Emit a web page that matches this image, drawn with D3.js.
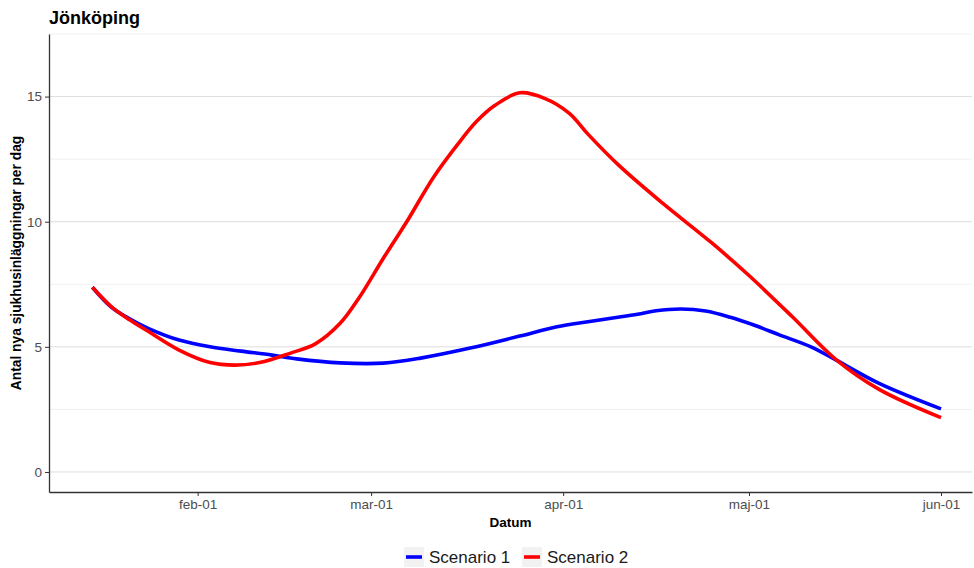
<!DOCTYPE html>
<html>
<head>
<meta charset="utf-8">
<script src="https://cdn.jsdelivr.net/npm/d3@7"></script>
<style>
  body { margin: 0; background: #fff; }
  svg { font-family: Arial, "Liberation Sans", sans-serif; }
</style>
</head>
<body>
<div id="chart"></div>
<script>
// Scenario 2 (red)
const datesS2 = ["2021-01-15","2021-01-18","2021-01-21","2021-01-24","2021-01-29","2021-02-03",
  "2021-02-07","2021-02-11","2021-02-16","2021-02-20","2021-02-24","2021-02-27","2021-03-03",
  "2021-03-07","2021-03-11","2021-03-15","2021-03-18","2021-03-21","2021-03-25","2021-03-29",
  "2021-04-02","2021-04-05","2021-04-10","2021-04-17","2021-04-25","2021-05-01","2021-05-08",
  "2021-05-15","2021-05-22","2021-06-01"];
const valuesS2 = [7.38, 6.62, 6.08, 5.62, 4.87, 4.37, 4.27, 4.37, 4.75, 5.12, 5.94, 6.94, 8.55,
  10.1, 11.75, 13.1, 14.0, 14.65, 15.15, 14.93, 14.33, 13.5, 12.25, 10.75, 9.15, 7.85, 6.2,
  4.5, 3.3, 2.17];

// Scenario 1 (blue)
const datesS1 = ["2021-01-15","2021-01-18","2021-01-21","2021-01-24","2021-01-29","2021-02-03",
  "2021-02-08","2021-02-13","2021-02-17","2021-02-24","2021-03-03","2021-03-09","2021-03-17",
  "2021-03-25","2021-03-31","2021-04-05","2021-04-09","2021-04-13","2021-04-16","2021-04-20",
  "2021-04-24","2021-04-28","2021-05-02","2021-05-06","2021-05-11","2021-05-15","2021-05-22",
  "2021-06-01"];
const valuesS1 = [7.38, 6.6, 6.12, 5.74, 5.27, 5.0, 4.83, 4.67, 4.52, 4.36, 4.35, 4.55, 4.95,
  5.43, 5.8, 6.0, 6.15, 6.3, 6.44, 6.51, 6.43, 6.18, 5.85, 5.47, 5.0, 4.48, 3.54, 2.52];

const seriesNames = ["Scenario 1", "Scenario 2"];
const seriesColors = ["#0000ff", "#ff0000"];
const xTicks = ["2021-02-01","2021-03-01","2021-04-01","2021-05-01","2021-06-01"];
const yTicks = [0, 5, 10, 15];
const yMinor = [2.5, 7.5, 12.5, 17.5];
const monthNames = ["jan","feb","mar","apr","maj","jun","jul","aug","sep","okt","nov","dec"];

function init() {
    const width = 974, height = 568;
    const margin = { top: 34, right: 2, bottom: 76, left: 49 };
    const parse = d3.timeParse("%Y-%m-%d");

    const svg = d3.select("#chart").append("svg")
        .attr("width", width)
        .attr("height", height);

    const x = d3.scaleTime()
        .domain([parse("2021-01-08"), parse("2021-06-06")])
        .range([margin.left, width - margin.right]);
    const y = d3.scaleLinear()
        .domain([-0.8, 17.5])
        .range([height - margin.bottom, margin.top]);

    // grid lines
    svg.append("g").selectAll("line").data(yMinor).join("line")
        .attr("x1", margin.left).attr("x2", width - margin.right)
        .attr("y1", d => y(d)).attr("y2", d => y(d))
        .attr("stroke", "#f0f0f0").attr("stroke-width", 1);
    svg.append("g").selectAll("line").data(yTicks).join("line")
        .attr("x1", margin.left).attr("x2", width - margin.right)
        .attr("y1", d => y(d)).attr("y2", d => y(d))
        .attr("stroke", "#dedede").attr("stroke-width", 1);

    // lines
    const line = d3.line()
        .x(d => x(d.date))
        .y(d => y(d.value))
        .curve(d3.curveCatmullRom.alpha(0.5));

    const series = [
        datesS1.map((d, i) => ({ date: parse(d), value: valuesS1[i] })),
        datesS2.map((d, i) => ({ date: parse(d), value: valuesS2[i] }))
    ];
    series.forEach((s, i) => {
        svg.append("path")
            .datum(s)
            .attr("d", line)
            .attr("fill", "none")
            .attr("stroke", seriesColors[i])
            .attr("stroke-width", 3.6)
            .attr("stroke-linejoin", "round");
    });

    // axes
    const fmt = d => monthNames[d.getMonth()] + "-01";
    const xAxis = svg.append("g")
        .attr("transform", `translate(0,${height - margin.bottom})`)
        .call(d3.axisBottom(x).tickValues(xTicks.map(parse)).tickFormat(fmt)
            .tickSizeInner(4).tickSizeOuter(0).tickPadding(3));
    const yAxis = svg.append("g")
        .attr("transform", `translate(${margin.left},0)`)
        .call(d3.axisLeft(y).tickValues(yTicks).tickSizeInner(4).tickSizeOuter(0).tickPadding(3));

    [xAxis, yAxis].forEach(g => {
        g.select(".domain").attr("stroke", "#333").attr("stroke-width", 1.3);
        g.selectAll(".tick line").attr("stroke", "#333");
        g.selectAll(".tick text").attr("fill", "#4d4d4d").style("font-size", "13.5px");
    });

    // title and axis labels
    svg.append("text")
        .attr("x", margin.left).attr("y", 24)
        .style("font-size", "18px").style("font-weight", "bold")
        .text("Jönköping");
    svg.append("text")
        .attr("x", (margin.left + width - margin.right) / 2).attr("y", 527)
        .attr("text-anchor", "middle")
        .style("font-size", "13.5px").style("font-weight", "bold")
        .text("Datum");
    svg.append("text")
        .attr("transform", `translate(21,${(margin.top + height - margin.bottom) / 2}) rotate(-90)`)
        .attr("text-anchor", "middle")
        .style("font-size", "13.8px").style("font-weight", "bold")
        .text("Antal nya sjukhusinläggningar per dag");

    // legend
    const legendX = [404, 522];
    const legend = svg.append("g").selectAll("g").data(seriesNames).join("g")
        .attr("transform", (d, i) => `translate(${legendX[i]},547)`);
    legend.append("rect")
        .attr("width", 20).attr("height", 20)
        .attr("fill", "#f2f2f2");
    legend.append("line")
        .attr("x1", 2).attr("x2", 18).attr("y1", 10).attr("y2", 10)
        .attr("stroke", (d, i) => seriesColors[i]).attr("stroke-width", 3.6);
    legend.append("text")
        .attr("x", 25).attr("y", 16)
        .style("font-size", "17px").attr("fill", "#1a1a1a")
        .text(d => d);
}

window.onload = init;
</script>
</body>
</html>
